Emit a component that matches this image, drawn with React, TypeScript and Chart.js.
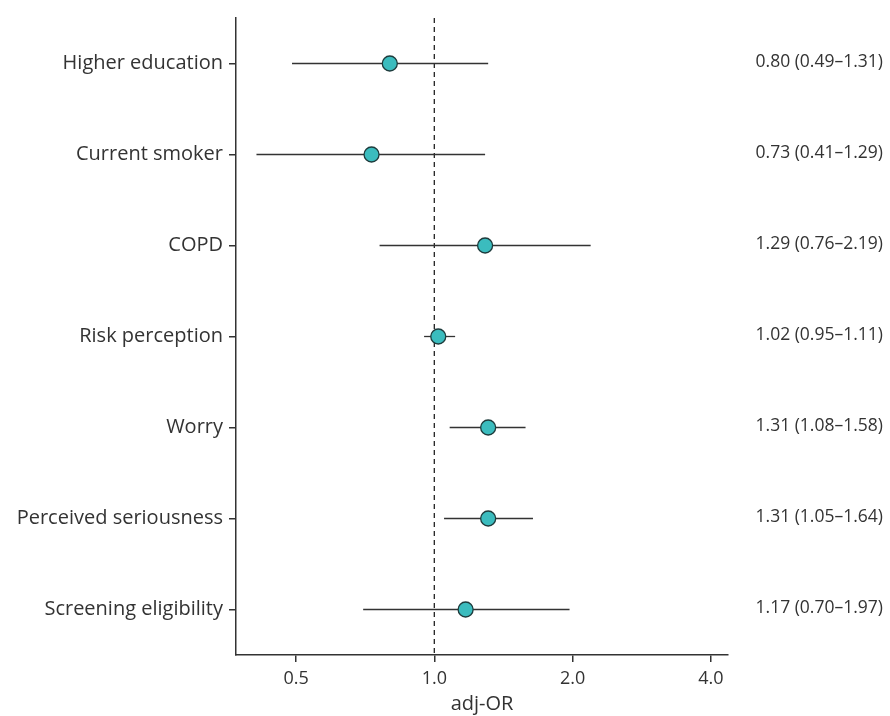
import React, { useEffect, useRef } from "react";
import { Chart, registerables } from "chart.js";

Chart.register(...registerables);

const categories = [
  "Higher education",
  "Current smoker",
  "COPD",
  "Risk perception",
  "Worry",
  "Perceived seriousness",
  "Screening eligibility",
];
const orValues = [0.8, 0.73, 1.29, 1.02, 1.31, 1.31, 1.17];
const ciLow = [0.49, 0.41, 0.76, 0.95, 1.08, 1.05, 0.7];
const ciHigh = [1.31, 1.29, 2.19, 1.11, 1.58, 1.64, 1.97];
const xTicks = [0.5, 1.0, 2.0, 4.0];
const rowLabels = [
  "0.80 (0.49\u20131.31)",
  "0.73 (0.41\u20131.29)",
  "1.29 (0.76\u20132.19)",
  "1.02 (0.95\u20131.11)",
  "1.31 (1.08\u20131.58)",
  "1.31 (1.05\u20131.64)",
  "1.17 (0.70\u20131.97)",
];

const FONT = "'Open Sans', Roboto, sans-serif";
const TEXT = "#333333";

const forestPlugin = {
  id: "forest",
  beforeDatasetsDraw(chart: any) {
    const { ctx, scales, chartArea } = chart;
    const xs = scales.x;
    const ys = scales.y;
    ctx.save();
    ctx.strokeStyle = "#222";
    ctx.lineWidth = 1.3;
    ctx.setLineDash([5, 4]);
    const x1 = xs.getPixelForValue(1);
    ctx.beginPath();
    ctx.moveTo(x1, chartArea.top);
    ctx.lineTo(x1, chartArea.bottom);
    ctx.stroke();
    ctx.setLineDash([]);
    ctx.strokeStyle = "#333";
    ctx.lineWidth = 1.3;
    for (let i = 0; i < categories.length; i++) {
      const y = ys.getPixelForValue(i);
      ctx.beginPath();
      ctx.moveTo(xs.getPixelForValue(ciLow[i]), y);
      ctx.lineTo(xs.getPixelForValue(ciHigh[i]), y);
      ctx.stroke();
    }
    ctx.restore();
  },
  afterDraw(chart: any) {
    const { ctx, scales } = chart;
    const ys = scales.y;
    ctx.save();
    ctx.fillStyle = TEXT;
    ctx.font = `17.5px ${FONT}`;
    ctx.textAlign = "right";
    ctx.textBaseline = "middle";
    for (let i = 0; i < rowLabels.length; i++) {
      ctx.fillText(rowLabels[i], chart.width - 7, ys.getPixelForValue(i) - 1);
    }
    ctx.restore();
  },
};

export default function App() {
  const ref = useRef<HTMLCanvasElement>(null);
  useEffect(() => {
    document.body.style.margin = "0";
    const chart = new Chart(ref.current!, {
      type: "scatter",
      data: {
        datasets: [
          {
            data: orValues.map((v, i) => ({ x: v, y: i })),
            backgroundColor: "#3bbcbe",
            borderColor: "#1e3b3c",
            borderWidth: 1.3,
            pointRadius: 7.5,
            pointHoverRadius: 7.5,
          },
        ],
      },
      options: {
        animation: false,
        responsive: false,
        maintainAspectRatio: false,
        events: [],
        layout: { padding: { top: 16, right: 162, left: 0, bottom: 0 } },
        plugins: { legend: { display: false }, tooltip: { enabled: false } },
        scales: {
          x: {
            type: "logarithmic",
            min: 0.37,
            max: 4.36,
            afterBuildTicks: (s: any) => {
              s.ticks = xTicks.map((v) => ({ value: v }));
            },
            afterFit: (s: any) => {
              s.height = 61;
            },
            ticks: {
              autoSkip: false,
              maxRotation: 0,
              color: TEXT,
              font: { family: FONT, size: 18 },
              padding: 6,
              callback: (v: any) => Number(v).toFixed(1),
            },
            grid: { drawOnChartArea: false, drawTicks: true, tickLength: 7, color: "#333", lineWidth: 1.5 },
            border: { color: "#333", width: 1.5 },
            title: {
              display: true,
              text: "adj-OR",
              color: TEXT,
              font: { family: FONT, size: 20 },
              padding: { top: 0, bottom: 0 },
            },
          },
          y: {
            type: "linear",
            min: -0.5,
            max: 6.5,
            reverse: true,
            afterBuildTicks: (s: any) => {
              s.ticks = categories.map((_, i) => ({ value: i }));
            },
            afterFit: (s: any) => {
              s.width = 236;
            },
            ticks: {
              autoSkip: false,
              color: TEXT,
              font: { family: FONT, size: 20 },
              padding: 6,
              callback: (v: any) => categories[v] ?? "",
            },
            grid: { drawOnChartArea: false, drawTicks: true, tickLength: 7, color: "#333", lineWidth: 1.5 },
            border: { color: "#333", width: 1.5 },
          },
        },
      },
      plugins: [forestPlugin],
    });
    return () => chart.destroy();
  }, []);
  return <canvas ref={ref} width={890} height={716} style={{ display: "block" }} />;
}
